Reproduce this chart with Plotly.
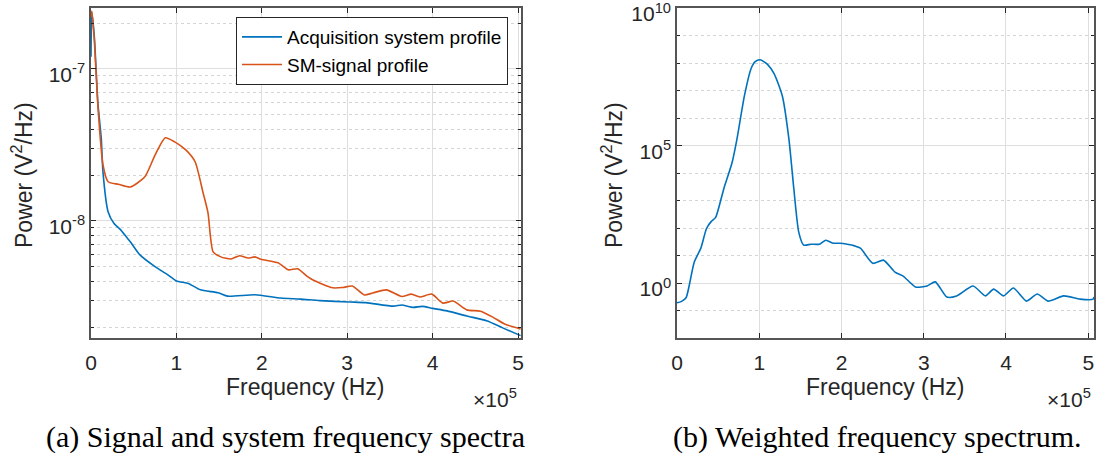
import plotly.graph_objects as go

# ---- data (frequency in Hz, power in V^2/Hz) ----
freq_sys = [0, 1e3, 4e3, 8e3, 12e3, 14e3, 20e3, 27e3, 35e3, 41e3, 46e3, 57e3, 75e3, 90e3,
            100e3, 114e3, 128e3, 149e3, 160e3, 192e3, 222e3, 245e3, 268e3, 303e3, 322e3,
            354e3, 364e3, 377e3, 388e3, 400e3, 417e3, 440e3, 464e3, 482e3, 503e3]
power_sys = [1.2e-7, 2.35e-7, 1.6e-7, 6.0e-8, 3.5e-8, 2.1e-8, 1.15e-8, 9.6e-9, 8.7e-9, 7.9e-9,
             7.3e-9, 6.0e-9, 5.0e-9, 4.42e-9, 4.03e-9, 3.88e-9, 3.52e-9, 3.37e-9, 3.2e-9,
             3.27e-9, 3.11e-9, 3.06e-9, 2.99e-9, 2.93e-9, 2.9e-9, 2.75e-9, 2.8e-9, 2.7e-9,
             2.74e-9, 2.66e-9, 2.56e-9, 2.37e-9, 2.2e-9, 1.98e-9, 1.76e-9]

freq_sig = [0, 1e3, 4e3, 8e3, 14e3, 20e3, 32e3, 46e3, 63e3, 75e3, 87e3, 98e3, 111e3, 122e3,
            131e3, 137e3, 143e3, 152e3, 164e3, 174e3, 184e3, 192e3, 199e3, 219e3, 231e3,
            242e3, 254e3, 260e3, 283e3, 295e3, 306e3, 320e3, 330e3, 346e3, 364e3, 375e3,
            385e3, 399e3, 412e3, 424e3, 440e3, 456e3, 471e3, 485e3, 503e3]
power_sig = [2.2e-7, 2.4e-7, 1.5e-7, 5.8e-8, 2.34e-8, 1.81e-8, 1.74e-8, 1.67e-8, 1.95e-8,
             2.71e-8, 3.52e-8, 3.31e-8, 2.93e-8, 2.44e-8, 1.55e-8, 1.13e-8, 6.25e-9, 5.8e-9,
             5.62e-9, 5.9e-9, 5.7e-9, 5.8e-9, 5.6e-9, 5.3e-9, 4.77e-9, 4.84e-9, 4.28e-9,
             4.09e-9, 3.63e-9, 3.65e-9, 3.73e-9, 3.26e-9, 3.36e-9, 3.52e-9, 3.18e-9, 3.3e-9,
             3.16e-9, 3.3e-9, 2.88e-9, 2.97e-9, 2.6e-9, 2.55e-9, 2.32e-9, 2.09e-9, 1.95e-9]

freq_w = [0, 5e3, 11e3, 15e3, 21e3, 29e3, 36e3, 42e3, 47e3, 57e3, 67e3, 73e3, 82e3, 90e3,
          95e3, 101e3, 110e3, 118e3, 128e3, 136e3, 142e3, 148e3, 154e3, 163e3, 173e3, 181e3,
          190e3, 198e3, 207e3, 216e3, 223e3, 238e3, 251e3, 265e3, 275e3, 290e3, 304e3,
          314e3, 328e3, 340e3, 360e3, 375e3, 385e3, 397e3, 409e3, 425e3, 438e3, 451e3,
          470e3, 490e3, 506e3, 507e3]
power_w = [0.19, 0.21, 0.29, 0.85, 5.8, 18.6, 98, 178, 245, 2750, 2.4e4, 1.78e5, 6.5e6, 6.2e7,
           1.12e8, 1.32e8, 8.9e7, 4.1e7, 6.5e6, 1.78e5, 2750, 71, 24, 25.7, 25.7, 36, 28, 28,
           25.7, 22.4, 18.6, 5.2, 6.8, 2.5, 1.78, 0.72, 0.78, 1.1, 0.31, 0.34, 0.78, 0.34, 0.6,
           0.34, 0.66, 0.22, 0.4, 0.22, 0.34, 0.26, 0.26, 0.31]

x_ticks = [0, 1e5, 2e5, 3e5, 4e5, 5e5]
x_labels = ["0", "1", "2", "3", "4", "5"]

W, H = 1114, 461
AX = "#262626"
FONT = "Liberation Sans"
SERIF = "Liberation Serif"


def px(x):
    return x / W


def py(y):
    return 1 - y / H


fig = go.Figure()

fig.add_trace(go.Scatter(x=freq_sys, y=power_sys, mode="lines", name="Acquisition system profile",
                         line=dict(color="#0072BD", width=1.6, shape="spline", smoothing=0.6),
                         xaxis="x", yaxis="y"))
fig.add_trace(go.Scatter(x=freq_sig, y=power_sig, mode="lines", name="SM-signal profile",
                         line=dict(color="#D95319", width=1.6, shape="spline", smoothing=0.6),
                         xaxis="x", yaxis="y"))
fig.add_trace(go.Scatter(x=freq_w, y=power_w, mode="lines", showlegend=False,
                         line=dict(color="#0072BD", width=1.6, shape="spline", smoothing=0.6),
                         xaxis="x2", yaxis="y2"))

common_x = dict(
    tickvals=x_ticks, ticktext=x_labels, ticks="inside", ticklen=5, tickcolor=AX,
    showline=True, linecolor="#555555", linewidth=1.5, mirror="ticks",
    showgrid=True, gridcolor="#dedede", gridwidth=1, zeroline=False, automargin=False,
    tickfont=dict(family=FONT, size=21, color=AX), ticklabelstandoff=5,
    ticklabeloverflow="allow",
)
common_y = dict(
    type="log", ticks="inside", ticklen=5, tickcolor=AX,
    showline=True, linecolor="#555555", linewidth=1.5, mirror="ticks",
    showgrid=True, gridcolor="#dedede", gridwidth=1, zeroline=False, automargin=False,
    tickfont=dict(family=FONT, size=21, color=AX), ticklabeloverflow="allow",
    ticklabelshift=6,
)

minor_left = [k * 10.0 ** e for e in (-9, -8, -7) for k in range(2, 10)]
minor_left = [v for v in minor_left if 1.7e-9 < v < 2.5e-7]
minor_right = [10.0 ** e for e in range(-1, 10) if e not in (0, 5)]

fig.update_layout(
    width=W, height=H,
    margin=dict(l=0, r=0, t=0, b=0, autoexpand=False),
    paper_bgcolor="white", plot_bgcolor="white",
    xaxis=dict(domain=[px(91), px(521)], range=[0, 5.035e5], anchor="y", **common_x),
    yaxis=dict(domain=[py(338), py(8)], range=[-8.77, -6.6], anchor="x",
               tickvals=[1e-8, 1e-7], ticktext=["10<sup>-8</sup>", "10<sup>-7</sup>"],
               minor=dict(tickvals=minor_left, ticks="inside", ticklen=3, tickcolor=AX,
                          showgrid=True, gridcolor="#d4d4d4", griddash="dot", gridwidth=1),
               **common_y),
    xaxis2=dict(domain=[px(677), px(1094)], range=[0, 5.07e5], anchor="y2", **common_x),
    yaxis2=dict(domain=[py(338), py(8)], range=[-2, 10.002], anchor="x2",
                tickvals=[1, 1e5, 1e10],
                ticktext=["10<sup>0</sup>", "10<sup>5</sup>", "10<sup>10</sup>"],
                minor=dict(tickvals=minor_right, ticks="inside", ticklen=3, tickcolor=AX,
                           showgrid=True, gridcolor="#d4d4d4", griddash="dot", gridwidth=1),
                **common_y),
    legend=dict(x=px(508), y=py(17), xanchor="right", yanchor="top",
                bgcolor="white", bordercolor=AX, borderwidth=1,
                font=dict(family=FONT, size=19, color="black"),
                itemwidth=40, tracegroupgap=0),
    showlegend=True,
)

texts = [
    # (text, x px, y px, size, family, angle)
    ("Frequency (Hz)", 305, 387, 23, FONT, 0),
    ("Frequency (Hz)", 885, 387, 23, FONT, 0),
    ("\u00d710<sup>5</sup>", 495, 398, 21, FONT, 0),
    ("\u00d710<sup>5</sup>", 1069, 398, 21, FONT, 0),
    ("Power (V<sup>2</sup>/Hz)", 22, 175, 23, FONT, -90),
    ("Power (V<sup>2</sup>/Hz)", 612, 175, 23, FONT, -90),
    ("(a) Signal and system frequency spectra", 285, 437, 30, SERIF, 0),
    ("(b) Weighted frequency spectrum.", 877, 437, 30, SERIF, 0),
]
for t, x, y, s, fam, ang in texts:
    fig.add_annotation(text=t, x=px(x), y=py(y), xref="paper", yref="paper",
                       showarrow=False, textangle=ang, xanchor="center", yanchor="middle",
                       font=dict(family=fam, size=s, color=AX if fam == FONT else "black"))

# the page's default 8px body margin would shift the fixed-size figure
fig.write_html("out.html", config={"displayModeBar": False},
               post_script="document.body.style.margin='0';")
